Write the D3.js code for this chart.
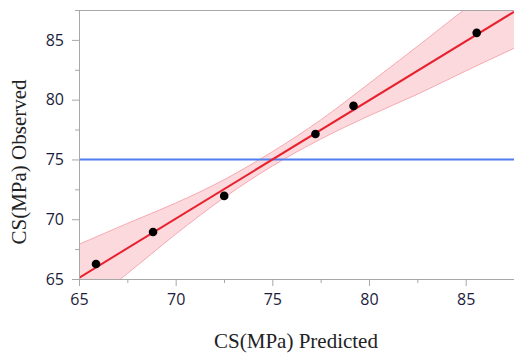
<!DOCTYPE html>
<html>
<head>
<meta charset="utf-8">
<script src="https://cdn.jsdelivr.net/npm/d3@7"></script>
<style>
  body { margin: 0; background: #fff; }
  .tick text { font-family: "Open Sans", "DejaVu Sans", sans-serif; font-size: 16px; fill: #1c1c3c; }
  .domain, .tick line { stroke: #a8a8a8; }
</style>
</head>
<body>
<div id="vis"></div>
<script>
// datos
const predicted = [65.88, 68.83, 72.51, 77.23, 79.2, 85.57];
const observed = [66.26, 68.93, 71.95, 77.13, 79.48, 85.59];
const fitX = [65, 87.5];
const fitY = [65.1, 87.35];
const meanObserved = 75;
const bandX = [65, 67.5, 70, 72.5, 75, 77.5, 80, 82.5, 85, 87.5];
const bandUpper = [67.9, 69.65, 71.35, 73.3, 75.65, 78.3, 81.35, 84.45, 87.6, 90.4];
const bandLower = [62.3, 65.45, 68.75, 71.8, 74.45, 76.7, 78.65, 80.45, 82.4, 84.3];
const majorTicks = [65, 70, 75, 80, 85];
const minorTicks = [67.5, 72.5, 77.5, 82.5, 87.5];

function createVis(rute) {
  const W = 514, H = 353;
  const left = 79, top = 10, right = 514, bottom = 279;

  const SVG = d3.select(rute).append("svg")
    .attr("width", W)
    .attr("height", H);

  const escalaX = d3.scaleLinear().domain([65, 87.5]).range([left, right]);
  const escalaY = d3.scaleLinear().domain([65, 87.5]).range([bottom, top]);

  const defs = SVG.append("defs");
  defs.append("clipPath").attr("id", "clip")
    .append("rect")
    .attr("x", left).attr("y", top)
    .attr("width", right - left).attr("height", bottom - top);

  const plot = SVG.append("g").attr("clip-path", "url(#clip)");

  // banda de confianza
  const banda = bandX.map((x, i) => ({ x: x, hi: bandUpper[i], lo: bandLower[i] }));
  const area = d3.area()
    .x(d => escalaX(d.x))
    .y0(d => escalaY(d.lo))
    .y1(d => escalaY(d.hi))
    .curve(d3.curveMonotoneX);
  plot.append("path")
    .datum(banda)
    .attr("d", area)
    .attr("fill", "#fcd9dd");
  ["hi", "lo"].forEach(k => {
    plot.append("path")
      .datum(banda)
      .attr("d", d3.line().x(d => escalaX(d.x)).y(d => escalaY(d[k])).curve(d3.curveMonotoneX))
      .attr("fill", "none")
      .attr("stroke", "#f6a9b1")
      .attr("stroke-width", 1);
  });

  // linea de la media
  plot.append("line")
    .attr("x1", left).attr("x2", right)
    .attr("y1", escalaY(meanObserved)).attr("y2", escalaY(meanObserved))
    .attr("stroke", "#4f7ff0")
    .attr("stroke-width", 2);

  // linea de ajuste
  plot.append("line")
    .attr("x1", escalaX(fitX[0])).attr("y1", escalaY(fitY[0]))
    .attr("x2", escalaX(fitX[1])).attr("y2", escalaY(fitY[1]))
    .attr("stroke", "#e8212e")
    .attr("stroke-width", 2);

  // puntos
  plot.selectAll("circle")
    .data(predicted)
    .join("circle")
    .attr("cx", d => escalaX(d))
    .attr("cy", (d, i) => escalaY(observed[i]))
    .attr("r", 4.3)
    .attr("fill", "#000");

  // ejes
  const ejeX = SVG.append("g")
    .attr("transform", `translate(0,${bottom})`)
    .call(d3.axisBottom(escalaX).tickValues(majorTicks).tickSize(7).tickPadding(5).tickSizeOuter(0));
  ejeX.selectAll(".tick text").attr("dy", "0.9em");
  SVG.append("g")
    .attr("transform", `translate(0,${bottom})`)
    .call(d3.axisBottom(escalaX).tickValues(minorTicks).tickSize(4).tickFormat("").tickSizeOuter(0))
    .select(".domain").remove();

  SVG.append("g")
    .attr("transform", `translate(${left},0)`)
    .call(d3.axisLeft(escalaY).tickValues(majorTicks).tickSize(7).tickPadding(8).tickSizeOuter(0));
  SVG.append("g")
    .attr("transform", `translate(${left},0)`)
    .call(d3.axisLeft(escalaY).tickValues(minorTicks).tickSize(4).tickFormat("").tickSizeOuter(0))
    .select(".domain").remove();

  // borde superior
  SVG.append("line")
    .attr("x1", left).attr("x2", right)
    .attr("y1", top + 0.5).attr("y2", top + 0.5)
    .attr("stroke", "#a8a8a8");

  // titulos
  SVG.append("text")
    .attr("x", 296)
    .attr("y", 348)
    .attr("text-anchor", "middle")
    .style("font-family", "'Liberation Serif', 'DejaVu Serif', serif")
    .style("font-size", "21px")
    .attr("fill", "#222")
    .text("CS(MPa) Predicted");

  SVG.append("text")
    .attr("transform", `translate(26,162) rotate(-90)`)
    .attr("text-anchor", "middle")
    .style("font-family", "'Liberation Serif', 'DejaVu Serif', serif")
    .style("font-size", "21px")
    .attr("fill", "#222")
    .text("CS(MPa) Observed");
}

createVis("#vis");
</script>
</body>
</html>
